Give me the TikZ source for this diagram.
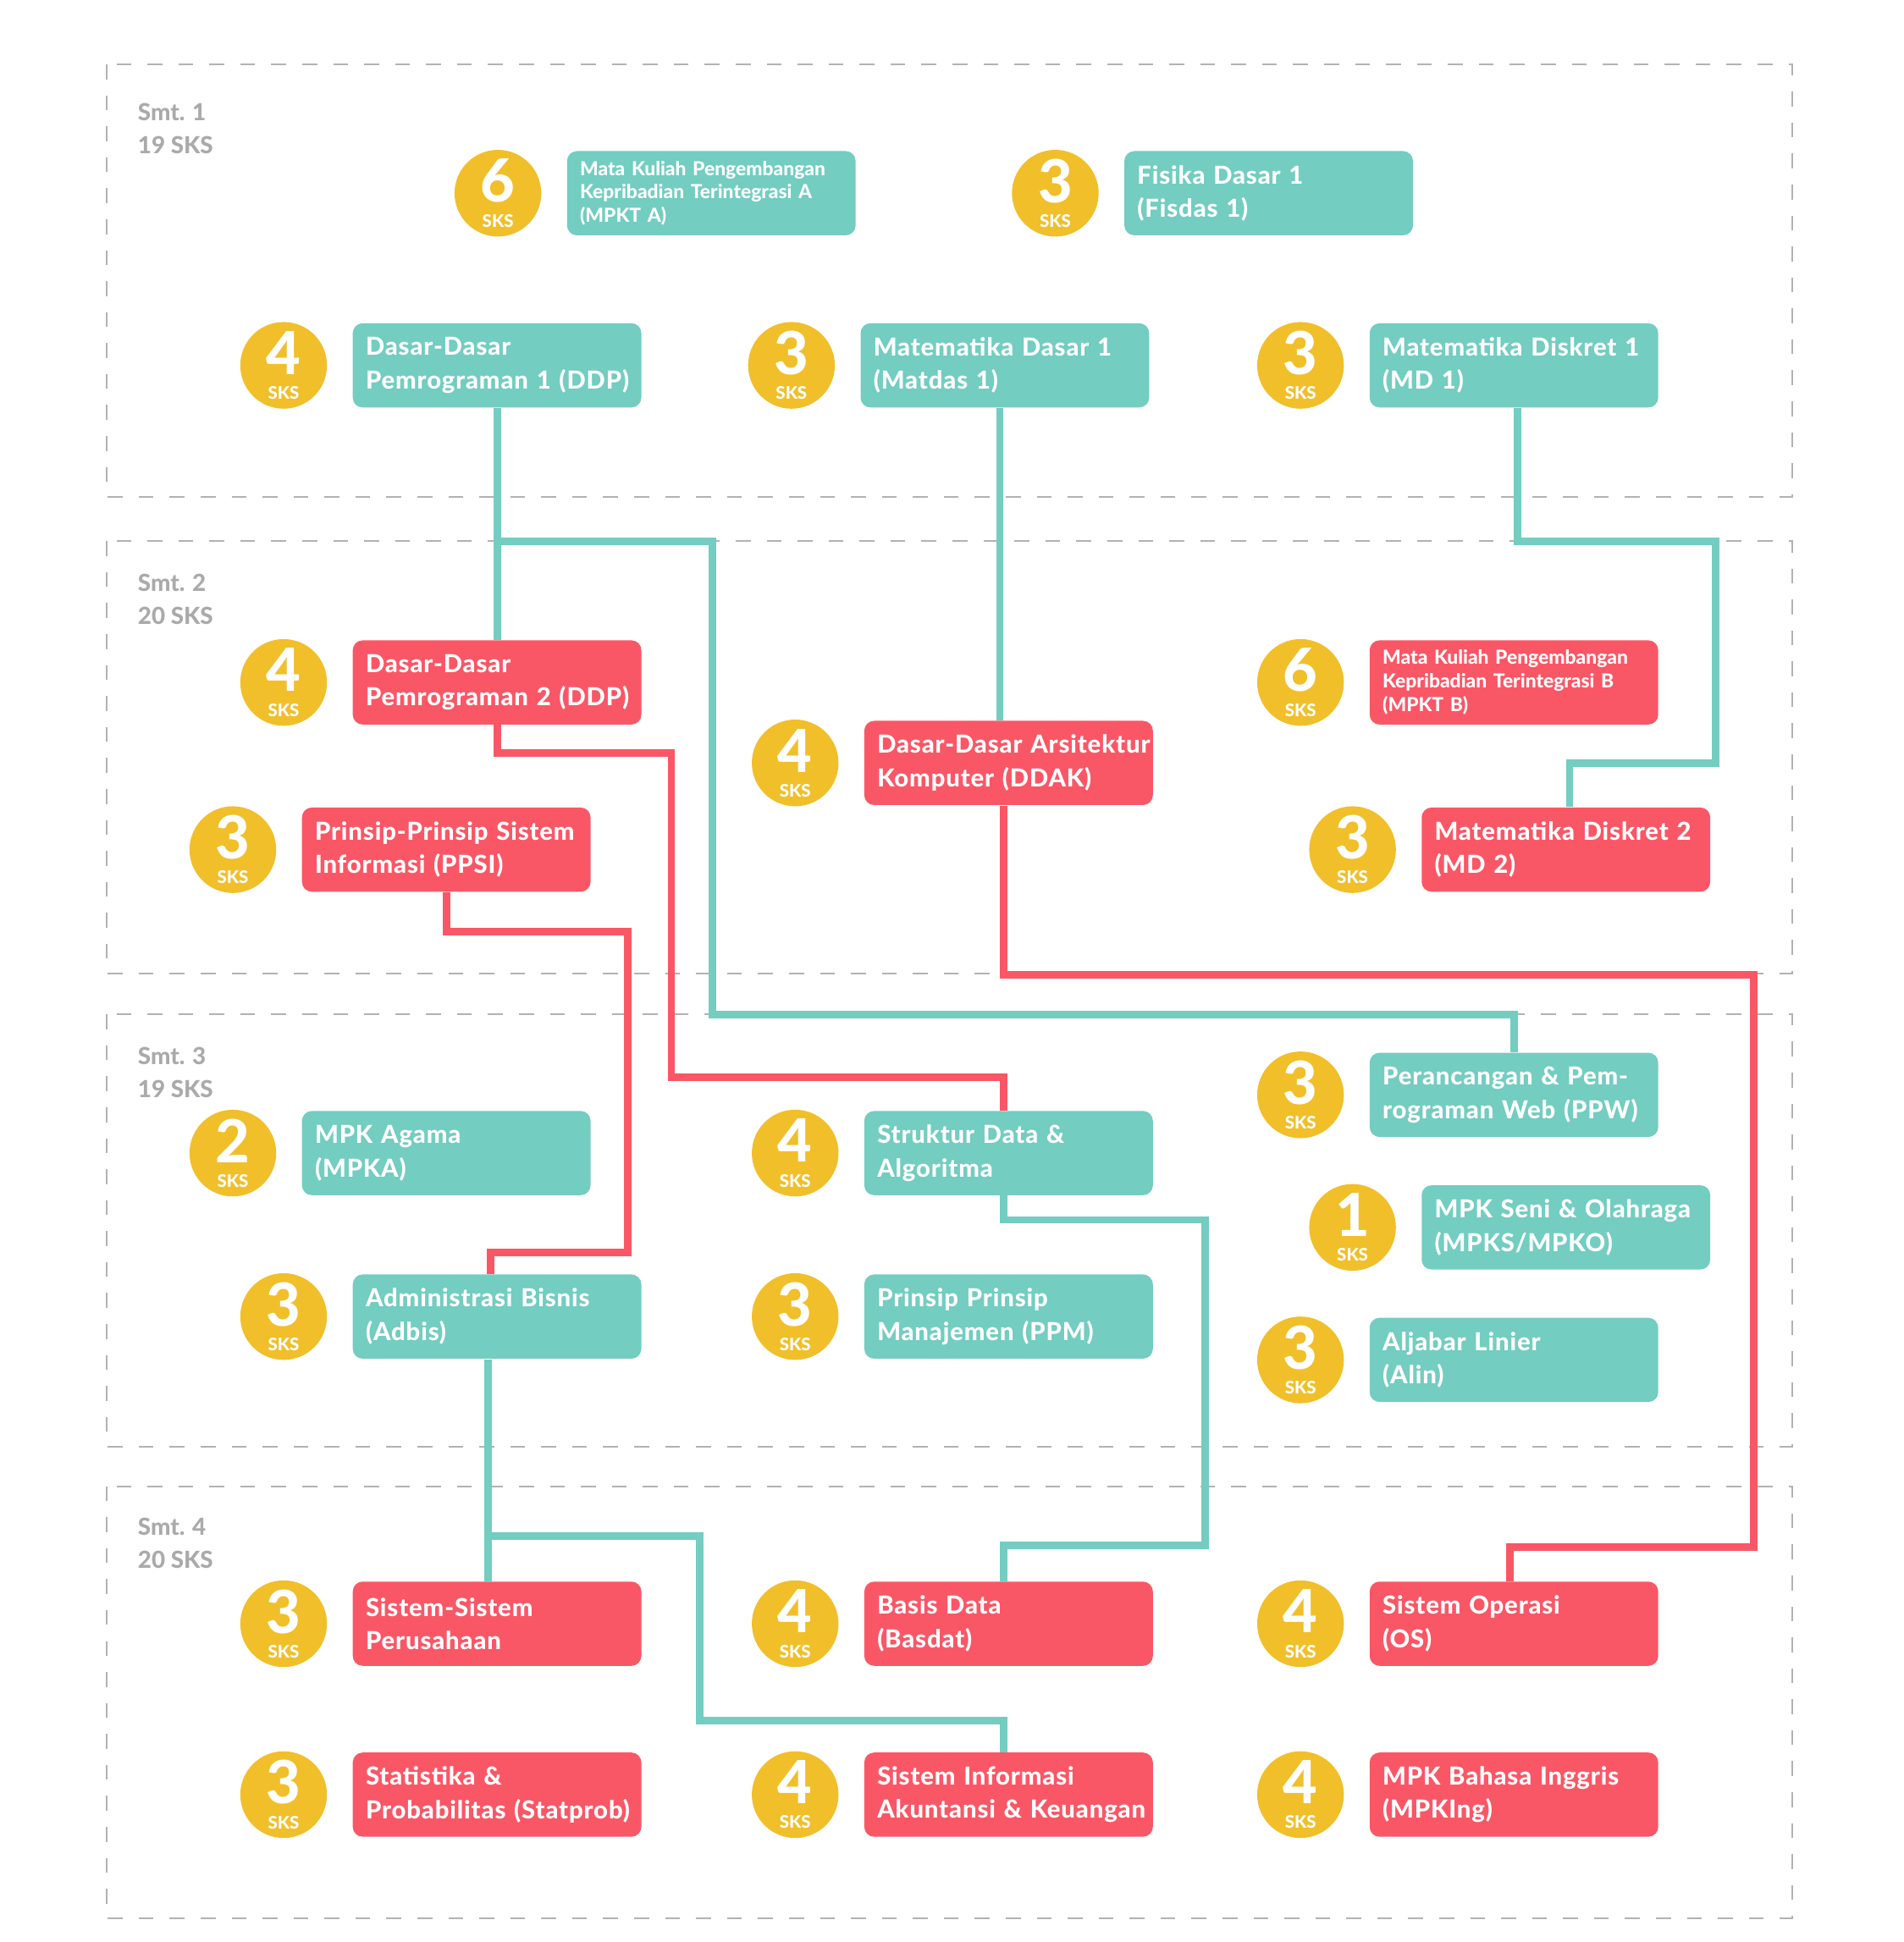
\documentclass[tikz,border=0pt]{standalone}
\usepackage{fontspec}
\setmainfont{Lato}[BoldFont={Lato Heavy}]
\usetikzlibrary{positioning}

\definecolor{oddteal}{RGB}{115,205,193}
\definecolor{evenred}{RGB}{250,87,102}
\definecolor{sksyellow}{RGB}{241,191,42}
\definecolor{framegray}{RGB}{178,178,178}
\definecolor{labelgray}{RGB}{170,170,170}

\newcommand{\sksnum}[1]{{\fontsize{24}{24}\selectfont #1}\\SKS}

\begin{document}
\begin{tikzpicture}[
		x=0.5pt, y=-0.5pt,
		sks/.style={circle, fill=sksyellow, text=white, minimum size=35pt, inner sep=0pt,
			align=center, font=\bfseries\fontsize{7}{10}\selectfont},
		course/.style={rounded corners=4pt, text=white, text width=106pt, inner xsep=5.25pt,
			inner ysep=0pt, minimum height=34pt, align=left,
			font=\bfseries\fontsize{10}{13.5}\selectfont\addfontfeature{LetterSpace=3}},
		oddsmt/.style={course, fill=oddteal},
		evensmt/.style={course, fill=evenred},
		small/.style={font=\bfseries\fontsize{7.8}{9.5}\selectfont},
		smt/.style={anchor=west, align=left, inner sep=0pt, text=labelgray,
			font=\bfseries\fontsize{9.5}{13.5}\selectfont},
		frame/.style={draw=framegray, line width=0.7pt, dash pattern=on 6pt off 6.5pt},
		oddlink/.style={draw=oddteal, line width=3pt},
		evenlink/.style={draw=evenred, line width=3pt}
		]
		\useasboundingbox (0,0) rectangle (1537,1568);
		
		% semester frames
		\draw[frame] (86,52) rectangle (1447,401);
		\draw[frame] (86,437) rectangle (1447,786);
		\draw[frame] (86,819) rectangle (1447,1168);
		\draw[frame] (86,1200) rectangle (1447,1549);
		
		\node[smt] (smt1) at (111,104) {Smt. 1\\19 SKS};
		\node[smt] (smt2) at (111,484) {Smt. 2\\20 SKS};
		\node[smt] (smt3) at (111,866) {Smt. 3\\19 SKS};
		\node[smt] (smt4) at (111,1246) {Smt. 4\\20 SKS};
		
		% Smt. 1
		\node[sks] (s-mpkta) at (402,156) {\sksnum{6}};
		\node[oddsmt, small, right=10pt of s-mpkta] (mpkta) {Mata Kuliah Pengembangan\\Kepribadian Terintegrasi A\\(MPKT A)};
		\node[sks] (s-fisdas) at (852,156) {\sksnum{3}};
		\node[oddsmt, right=10pt of s-fisdas] (fisdas) {Fisika Dasar 1\\(Fisdas 1)};
		\node[sks] (s-ddp1) at (229,295) {\sksnum{4}};
		\node[oddsmt, right=10pt of s-ddp1] (ddp1) {Dasar-Dasar\\\mbox{Pemrograman 1 (DDP)}};
		\node[sks] (s-matdas) at (639,295) {\sksnum{3}};
		\node[oddsmt, right=10pt of s-matdas] (matdas) {Matematika Dasar 1\\(Matdas 1)};
		\node[sks] (s-md1) at (1050,295) {\sksnum{3}};
		\node[oddsmt, right=10pt of s-md1] (md1) {\mbox{Matematika Diskret 1}\\(MD 1)};
		
		% Smt. 2
		\node[sks] (s-ddp2) at (229,551) {\sksnum{4}};
		\node[evensmt, right=10pt of s-ddp2] (ddp2) {Dasar-Dasar\\\mbox{Pemrograman 2 (DDP)}};
		\node[sks] (s-mpktb) at (1050,551) {\sksnum{6}};
		\node[evensmt, small, right=10pt of s-mpktb] (mpktb) {Mata Kuliah Pengembangan\\Kepribadian Terintegrasi B\\(MPKT B)};
		\node[sks] (s-ddak) at (642,616) {\sksnum{4}};
		\node[evensmt, right=10pt of s-ddak] (ddak) {\mbox{Dasar-Dasar Arsitektur}\\Komputer (DDAK)};
		\node[sks] (s-ppsi) at (188,686) {\sksnum{3}};
		\node[evensmt, right=10pt of s-ppsi] (ppsi) {\mbox{Prinsip-Prinsip Sistem}\\Informasi (PPSI)};
		\node[sks] (s-md2) at (1092,686) {\sksnum{3}};
		\node[evensmt, right=10pt of s-md2] (md2) {\mbox{Matematika Diskret 2}\\(MD 2)};
		
		% Smt. 3
		\node[sks] (s-ppw) at (1050,884) {\sksnum{3}};
		\node[oddsmt, right=10pt of s-ppw] (ppw) {Perancangan \& Pem-\\\mbox{rograman Web (PPW)}};
		\node[sks] (s-mpka) at (188,931) {\sksnum{2}};
		\node[oddsmt, right=10pt of s-mpka] (mpka) {MPK Agama\\(MPKA)};
		\node[sks] (s-sda) at (642,931) {\sksnum{4}};
		\node[oddsmt, right=10pt of s-sda] (sda) {Struktur Data \&\\Algoritma};
		\node[sks] (s-mpks) at (1092,991) {\sksnum{1}};
		\node[oddsmt, right=10pt of s-mpks] (mpks) {\mbox{MPK Seni \& Olahraga}\\(MPKS/MPKO)};
		\node[sks] (s-adbis) at (229,1063) {\sksnum{3}};
		\node[oddsmt, right=10pt of s-adbis] (adbis) {Administrasi Bisnis\\(Adbis)};
		\node[sks] (s-ppm) at (642,1063) {\sksnum{3}};
		\node[oddsmt, right=10pt of s-ppm] (ppm) {Prinsip Prinsip\\Manajemen (PPM)};
		\node[sks] (s-alin) at (1050,1098) {\sksnum{3}};
		\node[oddsmt, right=10pt of s-alin] (alin) {Aljabar Linier\\(Alin)};
		
		% Smt. 4
		\node[sks] (s-ssp) at (229,1311) {\sksnum{3}};
		\node[evensmt, right=10pt of s-ssp] (ssp) {Sistem-Sistem\\Perusahaan};
		\node[sks] (s-basdat) at (642,1311) {\sksnum{4}};
		\node[evensmt, right=10pt of s-basdat] (basdat) {Basis Data\\(Basdat)};
		\node[sks] (s-os) at (1050,1311) {\sksnum{4}};
		\node[evensmt, right=10pt of s-os] (os) {Sistem Operasi\\(OS)};
		\node[sks] (s-statprob) at (229,1449) {\sksnum{3}};
		\node[evensmt, right=10pt of s-statprob] (statprob) {Statistika \&\\\mbox{Probabilitas (Statprob)}};
		\node[sks] (s-siak) at (642,1449) {\sksnum{4}};
		\node[evensmt, right=10pt of s-siak] (siak) {Sistem Informasi\\\mbox{Akuntansi \& Keuangan}};
		\node[sks] (s-mpking) at (1050,1449) {\sksnum{4}};
		\node[evensmt, right=10pt of s-mpking] (mpking) {\mbox{MPK Bahasa Inggris}\\(MPKIng)};
		
		% prerequisite links
		\draw[oddlink] (ddp1.south) -- (ddp2.north);
		\draw[oddlink] (ddp1.south) |- (575,437) -- (575,819) -| (ppw.north);
		\draw[oddlink] ([xshift=-2pt]matdas.south) -- ([xshift=-2pt]matdas.south |- ddak.north);
		\draw[oddlink] ([xshift=1.5pt]md1.south) |- (1385,437) -- (1385,616) -| ([xshift=1.5pt]md2.north);
		\draw[evenlink] (ddp2.south) |- (542,608) -- (542,870) -| ([xshift=-2pt]sda.north);
		\draw[evenlink] (ppsi.south) |- (507,752) -- (507,1011) -| ([xshift=-2.5pt]adbis.north);
		\draw[evenlink] ([xshift=-2pt]ddak.south) |- (1416,787) -- (1416,1249) -| ([xshift=-1.5pt]os.north);
		\draw[oddlink] ([xshift=-2pt]sda.south) |- (973,985) -- (973,1248) -| ([xshift=-2pt]basdat.north);
		\draw[oddlink] ([xshift=-3.5pt]adbis.south) -- ([xshift=-3.5pt]ssp.north);
		\draw[oddlink] ([xshift=-3.5pt]adbis.south) |- (565,1240) -- (565,1389) -| ([xshift=-2pt]siak.north);
		
	\end{tikzpicture}
\end{document}
